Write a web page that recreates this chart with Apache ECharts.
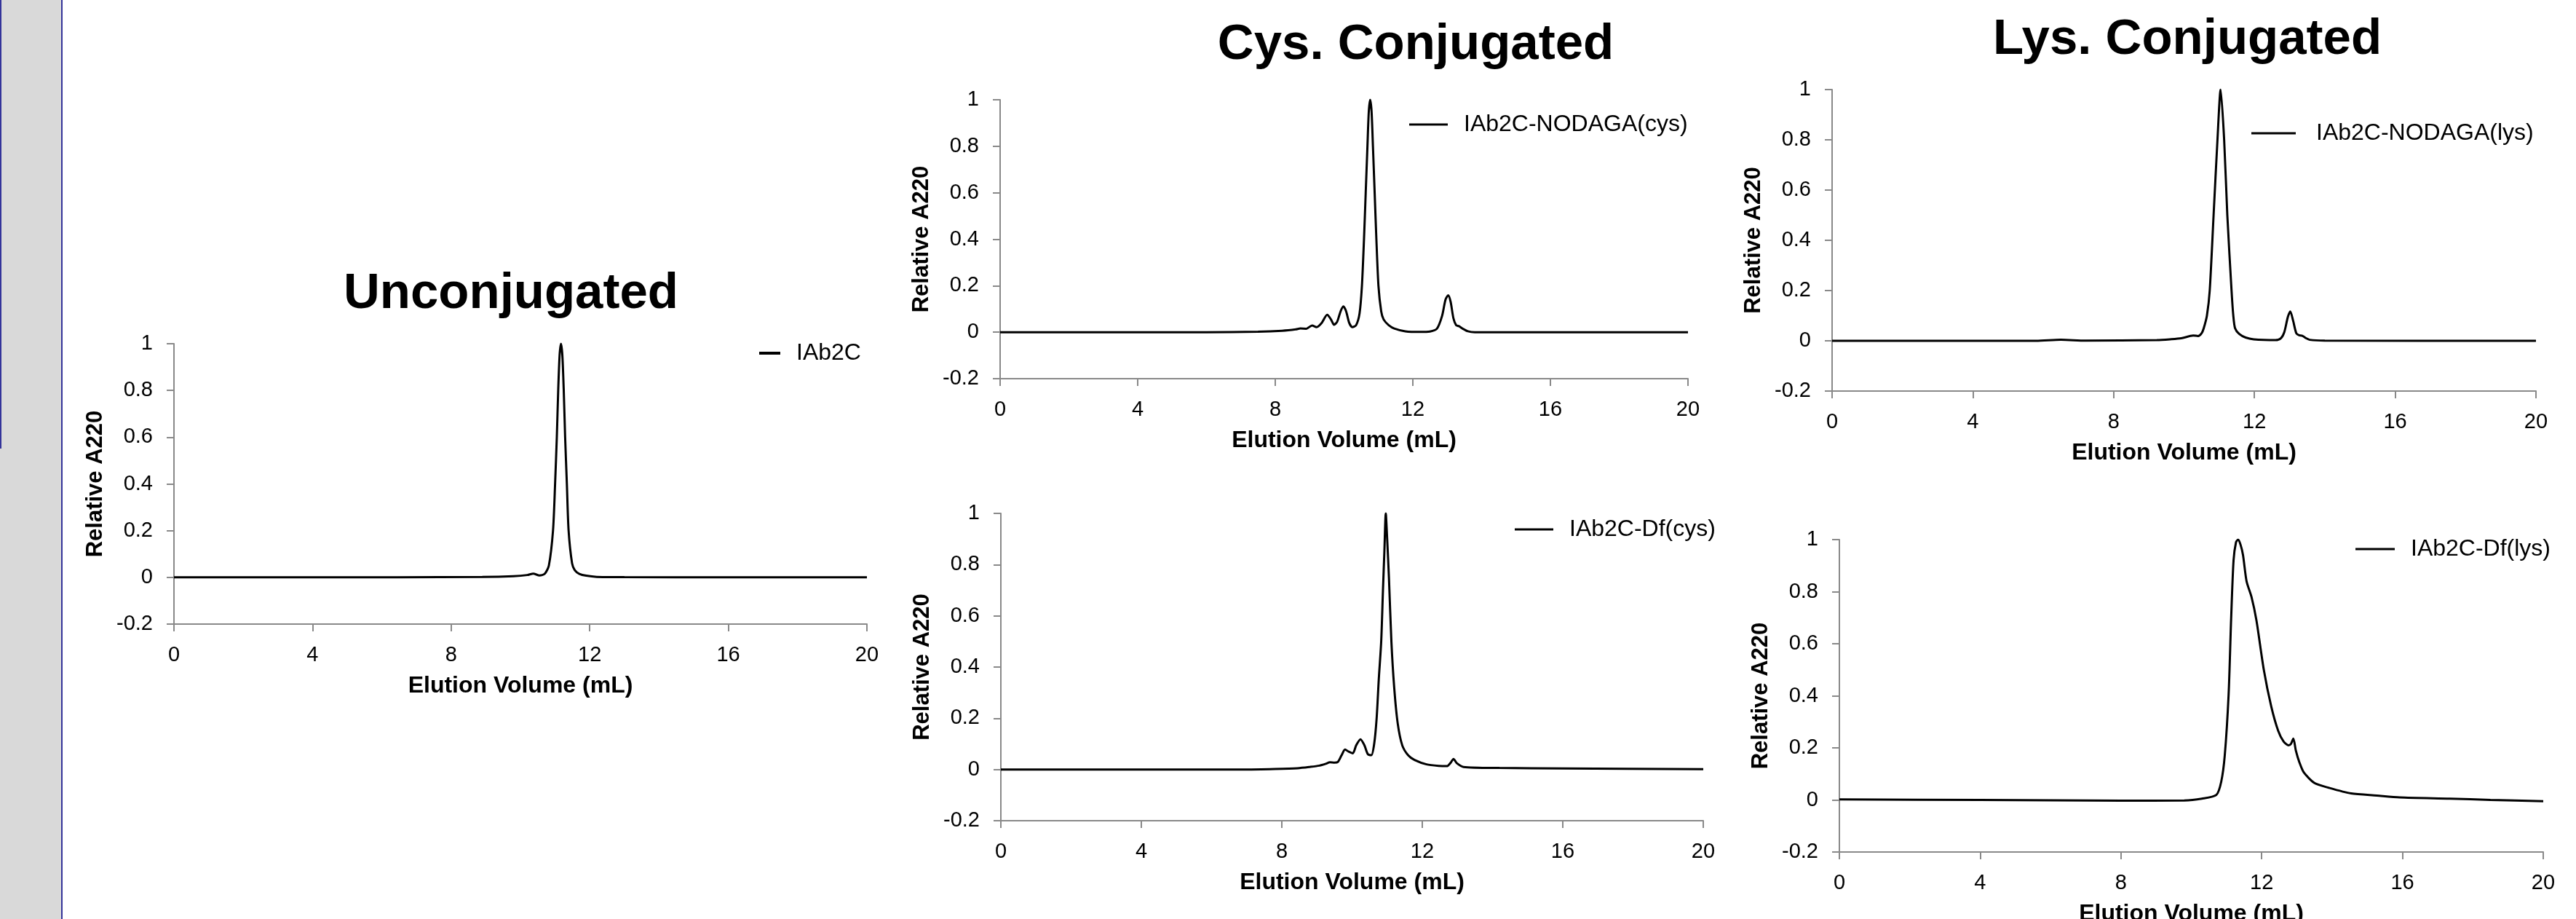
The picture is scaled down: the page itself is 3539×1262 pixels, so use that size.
<!DOCTYPE html>
<html>
<head>
<meta charset="utf-8">
<script src="https://cdn.jsdelivr.net/npm/echarts@6/dist/echarts.min.js"></script>
<style>
html,body{margin:0;padding:0;background:#fff;overflow:hidden}
#c{width:3539px;height:1262px}
</style>
</head>
<body>
<div id="c"></div>
<script>
// ---------- data ----------
const panelTitles = ['Unconjugated', 'Cys. Conjugated', 'Lys. Conjugated'];
const seriesNames = ['IAb2C', 'IAb2C-NODAGA(cys)', 'IAb2C-Df(cys)', 'IAb2C-NODAGA(lys)', 'IAb2C-Df(lys)'];
const xAxisName = 'Elution Volume (mL)';
const yAxisName = 'Relative A220';

// [elution volume (mL), relative A220]
const unconjugated = [
  [0,0],[4,0],[8.9,0.002],[9.8,0.005],[10.2,0.01],[10.37,0.016],[10.55,0.008],[10.7,0.015],
  [10.82,0.05],[10.94,0.2],[11.0,0.4],[11.05,0.6],[11.09,0.8],[11.13,0.95],[11.17,1.0],
  [11.21,0.95],[11.25,0.8],[11.29,0.6],[11.34,0.4],[11.39,0.2],[11.49,0.06],[11.57,0.03],
  [11.7,0.015],[11.9,0.007],[12.2,0.002],[13,0.001],[16,0],[20,0]
];
const cysNodaga = [
  [0,0],[4,0],[6,0],[7.5,0.002],[8.2,0.006],[8.6,0.012],[8.73,0.016],[8.9,0.015],[9.07,0.029],
  [9.2,0.022],[9.35,0.04],[9.51,0.075],[9.62,0.055],[9.71,0.032],[9.8,0.045],[9.9,0.09],
  [9.98,0.111],[10.06,0.09],[10.15,0.04],[10.24,0.022],[10.35,0.03],[10.45,0.08],[10.52,0.2],
  [10.58,0.4],[10.63,0.6],[10.68,0.8],[10.72,0.95],[10.76,1.0],[10.8,0.95],[10.84,0.8],
  [10.89,0.6],[10.94,0.4],[11.0,0.2],[11.08,0.09],[11.15,0.055],[11.3,0.03],[11.46,0.016],
  [11.78,0.004],[12.2,0.001],[12.5,0.003],[12.7,0.015],[12.85,0.07],[12.95,0.14],[13.03,0.159],
  [13.1,0.13],[13.18,0.06],[13.26,0.03],[13.34,0.026],[13.45,0.015],[13.6,0.004],[13.8,0],[20,0]
];
const cysDf = [
  [0,0],[4,0],[7.0,0],[7.8,0.002],[8.45,0.005],[8.8,0.01],[9.07,0.015],[9.25,0.022],[9.37,0.028],
  [9.5,0.027],[9.6,0.03],[9.7,0.055],[9.8,0.078],[9.9,0.07],[10.02,0.063],[10.12,0.095],
  [10.24,0.118],[10.35,0.095],[10.45,0.06],[10.55,0.056],[10.63,0.1],[10.7,0.2],[10.76,0.35],
  [10.83,0.5],[10.88,0.7],[10.92,0.85],[10.96,1.0],[11.0,0.9],[11.05,0.75],[11.12,0.5],
  [11.2,0.32],[11.3,0.18],[11.43,0.094],[11.6,0.055],[11.78,0.037],[12.12,0.02],[12.47,0.014],
  [12.7,0.013],[12.8,0.025],[12.89,0.041],[12.98,0.025],[13.17,0.01],[14.2,0.006],[16,0.004],[20,0.001]
];
const lysNodaga = [
  [0,0],[4,0],[5.8,0],[6.5,0.004],[7.2,0.001],[9.23,0.003],[9.6,0.006],[9.92,0.01],[10.26,0.021],
  [10.4,0.019],[10.5,0.03],[10.56,0.05],[10.65,0.1],[10.73,0.2],[10.84,0.5],[10.95,0.8],
  [11.04,1.0],[11.14,0.8],[11.23,0.5],[11.35,0.2],[11.4,0.1],[11.45,0.05],[11.57,0.027],
  [11.75,0.013],[11.98,0.006],[12.6,0.003],[12.75,0.01],[12.85,0.035],[12.95,0.095],[13.02,0.117],
  [13.1,0.08],[13.19,0.03],[13.27,0.022],[13.36,0.02],[13.47,0.01],[13.57,0.004],[14,0.001],[20,0]
];
const lysDf = [
  [0,0.002],[4,0],[8,-0.003],[9.8,-0.002],[10.3,0.005],[10.71,0.019],[10.85,0.07],[10.95,0.17],
  [11.06,0.405],[11.13,0.69],[11.2,0.92],[11.27,0.99],[11.33,1.0],[11.4,0.98],[11.47,0.94],
  [11.57,0.84],[11.71,0.78],[11.85,0.69],[12.06,0.5],[12.27,0.36],[12.47,0.265],[12.62,0.225],
  [12.76,0.21],[12.83,0.215],[12.9,0.236],[12.97,0.19],[13.07,0.145],[13.2,0.105],[13.5,0.065],
  [13.9,0.047],[14.54,0.025],[15.27,0.017],[15.92,0.01],[17.35,0.005],[18.5,0],[20,-0.005]
];
const seriesData = [unconjugated, cysNodaga, cysDf, lysNodaga, lysDf];

// ---------- layout (pixels) ----------
const panels = [
  {left:239,  top:472, width:952, height:385, lx:1043, ly:485, lw:29, lh:4, tpad:17},
  {left:1374, top:137, width:945, height:383, lx:1936, ly:171, lw:53, lh:3, tpad:17},
  {left:1375, top:705, width:965, height:422, lx:2081, ly:727, lw:53, lh:3, tpad:17},
  {left:2517, top:123, width:967, height:414, lx:3093, ly:183, lw:61, lh:3, tpad:23},
  {left:2527, top:741, width:967, height:429, lx:3236, ly:754, lw:54, lh:3, tpad:17}
];
const titlePos = [[702,404],[1945,62],[3005,55]];

const FONT = '"Liberation Sans", Arial, sans-serif';
const AXIS_COLOR = '#898989';

const option = {
  animation: false,
  textStyle: {fontFamily: FONT, color: '#000'},
  grid: panels.map(p => ({left:p.left, top:p.top, width:p.width, height:p.height, containLabel:false, outerBoundsMode:'none'})),
  xAxis: panels.map((p,i) => ({
    type:'value', gridIndex:i, min:0, max:20, interval:4,
    name:xAxisName, nameLocation:'middle', nameGap:69,
    nameTextStyle:{fontSize:32, fontWeight:'bold', color:'#000', fontFamily:FONT},
    axisLine:{show:true, onZero:false, lineStyle:{color:AXIS_COLOR, width:2}},
    axisTick:{show:true, length:10, lineStyle:{color:AXIS_COLOR, width:2}},
    axisLabel:{fontSize:29, color:'#000', margin:28, fontFamily:FONT},
    splitLine:{show:false}
  })),
  yAxis: panels.map((p,i) => ({
    type:'value', gridIndex:i, min:-0.2, max:1, interval:0.2,
    name:yAxisName, nameLocation:'middle', nameGap:92,
    nameTextStyle:{fontSize:31, fontWeight:'bold', color:'#000', fontFamily:FONT},
    axisLine:{show:true, onZero:false, lineStyle:{color:AXIS_COLOR, width:2}},
    axisTick:{show:true, length:10, lineStyle:{color:AXIS_COLOR, width:2}},
    axisLabel:{fontSize:29, color:'#000', margin:29, fontFamily:FONT},
    splitLine:{show:false}
  })),
  legend: panels.map((p,i) => ({
    data:[{name:seriesNames[i], icon:'rect'}], left:p.lx, top:p.ly - 16, orient:'horizontal',
    padding:0, itemWidth:p.lw, itemHeight:p.lh, selectedMode:false,
    itemStyle:{color:'#000', borderWidth:0},
    textStyle:{fontSize:32, color:'#000', lineHeight:32, fontFamily:FONT, padding:[0,0,0,p.tpad]}
  })),
  series: seriesData.map((d,i) => ({
    type:'line', name:seriesNames[i], xAxisIndex:i, yAxisIndex:i, data:d,
    symbol:'none', showSymbol:false, smooth:0.25, silent:true,
    lineStyle:{color:'#000', width:3}, itemStyle:{color:'#000'}
  })),
  graphic: [
    {type:'rect', z:-10, shape:{x:0, y:0, width:85, height:1262}, style:{fill:'#d9d9d9'}},
    {type:'rect', z:-9, shape:{x:84, y:0, width:2, height:1262}, style:{fill:'#34349a'}},
    {type:'rect', z:-9, shape:{x:0, y:0, width:2, height:616}, style:{fill:'#34349a'}}
  ].concat(panelTitles.map((t,i) => ({
    type:'text', x:titlePos[i][0], y:titlePos[i][1],
    style:{text:t, fontSize:69, fontWeight:'bold', fontFamily:FONT, fill:'#000', align:'center', verticalAlign:'middle'}
  })))
};

const chart = echarts.init(document.getElementById('c'), null, {renderer:'canvas'});
chart.setOption(option);
</script>
</body>
</html>
